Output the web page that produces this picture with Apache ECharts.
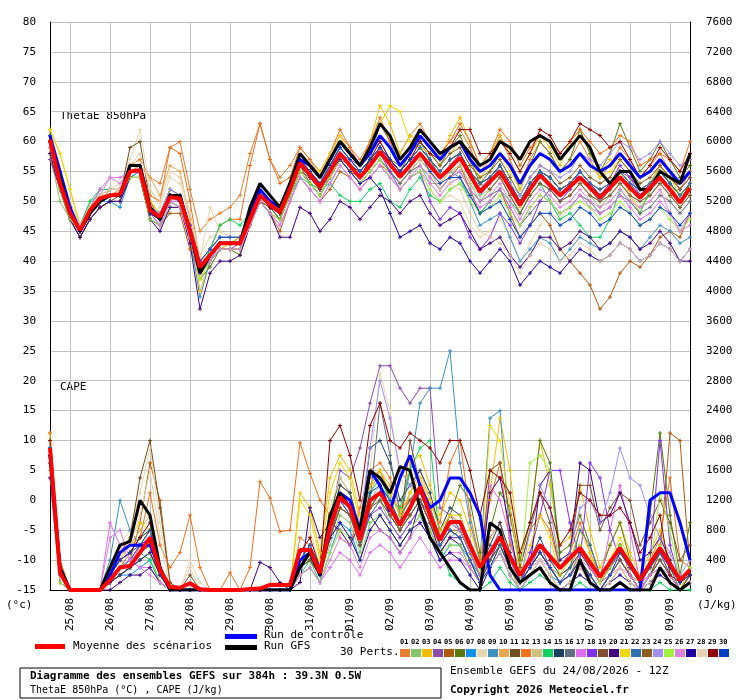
<!DOCTYPE html>
<html><head><meta charset="utf-8">
<script src="https://cdn.jsdelivr.net/npm/echarts@6/dist/echarts.min.js"></script>
<style>html,body{margin:0;padding:0;background:#fff}#c{width:740px;height:700px}</style>
</head><body><div id="c"></div>
<script>
// 65 echeances de 6h, 24/08 12Z -> +384h
var dateLabels = ['25/08','26/08','27/08','28/08','29/08','30/08','31/08','01/09','02/09','03/09','04/09','05/09','06/09','07/09','08/09','09/09'];
var colors = ['#e87f33','#88c46c','#f0c000','#8b4da8','#b05a10','#5a7a10','#1090f0','#e8d8b0','#4090c0','#e8a850',
  '#705020','#f07020','#d0c080','#10d060','#204060','#607080','#e070f0','#8030f0','#805030','#400080',
  '#f0d800','#3070b0','#8a6020','#a090f0','#a0f040','#e080e0','#2000a0','#e8d0b0','#900000','#0040c0'];

// ThetaE 850hPa (degC)
var thetaMean = [60.3,53,48,45.2,48.5,50.5,51,51.2,55,55.2,48.5,47.4,50.7, 50.5,45,39,41,43,43,43,47,51,49.5,48.2,52,56.4,
  54.5,52.4,55,58,56,54,56,58.3,56.2,54.1,56,58,56, 54,55.6,57.3,54.5,51.6,53.3,55,52.2,49.4,52,54.4,52.7,51,
  52.5,54,52.3,50.6,52.3,54,52.3,50.6,52.3,54,52,49.8,52.2];
var thetaCtrl = [61,55,49,45,48,50,51,51,56,56,49,47,51, 51,45,38,41,43,43,43,48,52,50,49,53,57, 56,54,57,60,58,56,58,61,59,56,58,61,59, 57,59,60,57,55,56,58,56,53,56,58,57,55, 56,58,56,55,56,58,56,54,55,57,55,53,55];
var thetaGfs = [60,54,48,45,48,50,51,51,56,56,49,47,51, 51,45,38,41,43,43,43,49,53,51,49,53,58, 56,54,57,60,58,56,59,63,61,57,59,62,60, 58,59,60,58,56,57,60,59,57,60,61,60,57, 59,61,59,55,53,55,55,52,52,55,54,53,58];
var thetaMembers = [
 [61,55,49,45,48,50,52,52,56,57,54,53,59, 60,52,45,47,48,49,51,58,63,57,54,56,59, 57,54,58,61,59,57,60,64,60,58,61,63,60, 58,60,62,59,55,57,61,57,53,57,60,58,55, 57,60,57,54,56,59,57,54,56,58,55,52,55],
 [58,50,47,46,50,51,51,51,54,54,47,46,49, 49,44,38,42,44,44,44,46,50,48,47,51,55, 53,51,54,57,55,53,55,57,55,53,55,56,53, 53,55,56,53,50,52,54,51,48,51,53,52,50, 51,53,51,49,51,53,51,49,51,53,51,49,51],
 [62,58,52,46,49,51,52,52,56,56,50,48,52, 51,46,35,40,42,43,43,48,52,50,49,53,57, 56,54,57,60,58,56,60,66,63,58,61,60,58, 57,61,64,60,56,58,61,58,55,58,61,59,56, 60,62,58,55,57,55,51,48,52,56,53,50,53],
 [57,52,48,45,49,52,52,52,55,56,48,47,51, 51,45,38,40,42,42,43,47,51,50,48,53,56, 55,53,55,58,57,56,58,60,57,55,57,59,57, 54,56,58,55,52,54,56,53,50,53,55,54,52, 53,55,53,51,53,55,54,52,53,55,53,51,53],
 [60,52,47,44,47,49,50,50,54,54,47,46,48, 48,42,38,40,42,42,42,46,50,48,45,50,54, 52,50,52,55,54,52,54,56,55,53,55,57,55, 52,54,56,52,48,50,52,48,44,46,48,46,42, 40,38,36,32,34,38,40,39,41,44,45,44,48],
 [59,53,48,45,48,50,51,51,54,55,49,47,51, 50,44,37,39,42,42,41,46,50,49,47,51,55, 53,52,55,58,56,54,57,59,57,55,58,60,58, 56,59,61,57,53,55,58,56,52,56,60,58,55, 57,62,58,55,58,63,59,55,57,60,57,54,56],
 [60,54,49,46,49,50,50,49,54,55,47,46,50, 49,44,38,41,43,43,44,48,52,50,49,53,57, 55,53,56,58,56,55,57,58,56,54,56,58,56, 54,56,57,54,51,53,56,53,50,53,55,53,51, 52,54,52,50,52,55,53,51,53,55,53,51,53],
 [61,55,50,46,49,51,52,53,57,62,52,49,54, 53,47,40,49,45,44,44,49,52,50,48,52,56, 54,52,55,57,55,53,55,57,54,52,54,55,52, 50,51,50,46,44,45,47,44,40,43,46,48,47, 49,51,50,48,50,52,51,49,50,52,50,48,50],
 [60,53,48,45,48,50,51,51,55,55,48,46,50, 50,44,34,40,43,43,43,47,51,49,48,52,56, 54,52,54,57,56,55,57,63,60,56,58,60,57, 54,55,54,50,46,47,48,44,40,42,44,43,40, 42,44,43,42,43,45,44,42,44,46,45,43,44],
 [61,54,48,45,48,50,51,51,55,56,54,51,56, 55,47,40,41,43,43,44,48,51,49,48,52,56, 54,52,55,58,56,54,56,58,56,54,56,58,56, 54,56,57,54,52,53,55,52,49,52,54,53,51, 52,54,52,51,52,54,52,51,52,54,52,50,52],
 [58,52,47,44,47,49,50,51,59,60,50,47,51, 50,44,38,40,42,42,42,47,50,49,47,51,55, 54,52,55,58,56,55,57,59,57,55,57,59,57, 55,57,58,55,53,54,56,53,50,53,55,54,52, 53,55,53,51,52,54,52,51,52,54,52,50,53],
 [60,53,48,45,48,50,51,52,56,56,51,50,59, 58,50,40,42,46,47,47,56,63,57,53,54,59, 57,55,58,62,59,56,60,63,60,57,59,62,60, 58,60,63,60,56,58,62,60,56,59,61,60,58, 60,62,60,58,59,61,60,56,57,58,57,55,60],
 [60,54,49,46,49,51,51,52,55,55,49,47,51, 50,45,39,41,43,43,43,48,52,50,49,52,55, 53,51,54,57,55,53,55,57,55,53,55,57,55, 53,55,56,53,51,52,54,51,48,51,53,52,50, 51,53,51,50,51,53,51,50,51,53,51,49,51],
 [60,53,48,46,50,52,52,52,55,55,48,47,50, 50,44,38,42,46,47,46,48,51,49,48,51,54, 53,52,53,51,50,50,52,53,50,49,52,54,51, 50,52,53,51,48,50,52,50,48,51,53,50,47, 48,46,44,44,47,52,50,48,52,55,53,51,52],
 [61,55,49,45,48,50,51,51,55,55,48,47,51, 50,45,39,41,43,43,43,47,51,49,48,52,56, 55,53,56,59,57,55,57,59,57,55,57,59,57, 55,57,58,55,53,54,56,53,50,53,55,54,52, 53,55,53,52,53,55,53,52,53,55,53,51,53],
 [59,52,47,44,47,49,50,50,54,54,47,46,50, 49,44,38,40,42,42,42,46,50,48,47,51,55, 53,51,54,57,55,53,55,57,55,53,55,56,54, 52,54,55,52,50,51,52,49,46,48,50,50,48, 49,51,50,48,49,51,50,48,49,51,50,48,50],
 [59,53,48,45,49,52,54,54,55,55,48,46,50, 50,44,38,40,42,42,42,46,50,48,46,50,54, 52,50,53,56,54,52,54,56,54,52,54,55,53, 51,53,54,51,49,50,52,49,46,49,51,50,48, 49,51,49,48,49,51,49,47,48,50,48,45,48],
 [60,53,48,45,48,50,51,51,55,55,48,47,51, 50,45,39,41,43,43,43,47,51,49,48,52,56, 54,52,55,58,56,54,56,58,55,52,54,55,50, 47,49,48,44,42,44,48,46,43,46,50,52,50, 52,55,53,51,53,56,54,51,53,56,54,52,54],
 [61,54,48,45,48,50,51,51,55,55,48,47,51, 50,45,39,41,43,43,43,47,51,49,48,52,56, 53,51,54,57,55,54,57,59,57,55,57,59,57, 55,57,58,55,53,52,54,51,48,51,53,52,50, 51,53,51,50,51,53,51,50,51,53,51,49,51],
 [58,52,47,44,47,49,50,50,54,54,47,45,49, 49,43,32,38,40,40,41,46,50,48,44,44,49, 48,45,47,50,49,47,49,51,50,48,50,51,48, 46,47,48,45,42,43,44,41,39,41,44,44,42, 43,45,44,42,43,45,44,42,43,45,43,40,40],
 [62,58,52,46,49,51,52,52,56,56,50,48,52, 51,46,37,41,43,43,44,48,52,50,49,53,57, 56,55,58,61,58,56,59,63,66,65,60,59,58, 56,58,60,57,54,56,58,55,52,56,58,57,55, 56,58,56,54,55,57,55,52,53,56,54,51,53],
 [60,54,49,45,48,50,51,51,55,55,49,48,52, 51,45,39,41,43,43,43,47,51,49,48,52,57, 55,53,56,59,57,55,57,59,57,55,57,59,57, 55,57,58,55,53,54,56,53,50,53,55,54,52, 53,55,53,52,53,55,53,52,53,55,53,51,53],
 [59,53,48,45,48,50,51,51,55,55,48,47,51, 50,45,39,41,43,43,43,47,51,49,48,52,56, 54,52,55,58,56,54,57,59,57,56,58,60,58, 56,58,59,56,54,55,57,54,51,54,56,55,53, 54,56,54,53,54,57,55,53,54,56,54,52,54],
 [60,54,49,46,49,51,52,52,56,56,49,48,52, 51,46,40,42,44,44,44,48,52,50,49,53,57, 55,53,56,59,57,55,57,59,57,55,57,58,56, 54,56,57,54,52,53,55,53,51,54,56,55,54, 55,58,57,56,58,60,59,57,58,60,58,56,57],
 [59,52,47,45,49,51,51,51,54,54,47,46,50, 49,44,37,40,42,42,42,46,50,48,47,51,55, 53,51,54,57,55,53,55,57,54,52,54,55,52, 50,52,53,50,48,49,51,48,46,49,51,50,48, 49,50,49,47,48,50,48,46,47,49,47,45,47],
 [59,53,48,45,48,51,54,53,55,55,48,46,50, 49,44,38,40,42,42,42,46,50,48,46,50,54, 52,50,53,56,54,52,54,56,54,52,54,56,54, 52,54,55,52,50,51,53,50,47,50,52,51,49, 50,52,50,49,50,52,50,49,50,52,48,45,46],
 [60,54,48,45,48,50,51,51,55,55,48,47,51, 50,45,39,41,43,43,43,47,51,49,48,52,56, 54,52,55,57,55,53,54,52,48,44,45,46,43, 42,44,43,40,38,40,42,40,36,38,40,39,38, 40,42,41,40,41,43,42,40,41,43,42,40,42],
 [61,55,50,46,49,51,52,52,56,58,52,50,55, 54,48,41,44,45,44,44,48,52,50,48,52,56, 54,52,55,58,56,54,56,58,56,54,56,58,55, 52,53,52,48,45,44,43,41,38,41,43,42,40, 41,43,42,40,41,43,42,40,41,43,42,40,42],
 [60,54,49,45,48,50,51,51,55,55,48,47,51, 50,45,39,41,43,43,43,47,51,49,48,52,56, 54,52,55,58,56,54,57,60,57,55,57,60,58, 57,59,62,62,58,58,60,58,55,58,62,61,58, 60,63,62,61,59,60,57,54,56,59,57,55,58],
 [61,55,49,45,48,50,51,51,55,55,48,47,51, 51,46,40,42,44,44,44,48,52,50,49,53,57, 55,53,56,59,57,55,57,59,57,55,57,58,55, 53,54,54,51,48,49,50,47,44,46,48,48,46, 47,49,48,46,47,49,48,46,47,49,48,46,48]
];

// CAPE (J/kg), axe de droite
var capeMean = [1900,230,0,0,0,0,130,300,320,500,700,270,40, 30,90,10,0,0,0,0,15,20,70,67,67,535,
  535,227,843,1244,1110,669,1200,1298,1100,870,1100,1378,1000, 669,910,910,600,308,500,709,450,200,400,602,450,294,
  430,562,370,174,370,562,350,134,350,562,350,134,268];
var capeCtrl = [1800,300,0,0,0,0,200,500,600,600,600,300,0, 0,0,0,0,0,0,0,0,0,0,0,0,400, 500,200,900,1300,1200,800,1600,1400,1050,1500,1800,1400,1100, 1200,1500,1500,1300,1000,200,0,0,0,0,0,0,0, 0,0,0,0,0,0,0,0,1200,1300,1300,900,400];
var capeGfs = [1800,300,0,0,0,0,300,600,650,1200,1000,300,0, 0,0,0,0,0,0,0,0,0,0,0,0,300, 500,200,1000,1300,1100,800,1600,1500,1300,1650,1600,1100,700, 500,300,100,0,0,900,800,300,100,200,300,100,0, 0,400,100,0,0,100,0,0,0,300,100,0,100];
var capeMembers = [
 [2000,300,0,0,0,0,200,400,300,600,800,200,0, 0,100,0,0,0,0,0,0,0,0,0,0,700, 600,300,900,1400,1300,800,1500,1600,1200,900,1300,1500,1100, 700,1000,900,500,200,700,900,400,100,300,500,300,200, 300,600,300,100,300,600,200,100,300,500,200,0,200],
 [1800,200,0,0,0,0,100,200,300,400,500,200,0, 0,0,0,0,0,0,0,0,0,0,0,0,300, 400,200,600,1000,900,500,1100,1200,900,700,900,1100,800, 500,700,800,500,200,400,600,300,100,300,500,300,200, 300,400,200,0,200,400,200,0,200,400,200,0,100],
 [2100,400,0,0,0,0,200,500,600,700,800,300,0, 0,0,0,0,0,0,0,0,0,0,0,0,1300, 1100,500,1500,1800,1600,1000,1400,1500,1300,1000,1700,1800,1400, 1000,1300,1200,800,400,1300,2300,1600,400,900,2000,1400,600, 700,1400,800,300,600,900,500,200,500,800,400,100,300],
 [1700,300,0,0,0,0,100,300,400,500,600,200,0, 0,0,0,0,0,0,0,0,0,0,0,0,400, 500,200,900,1600,1500,1900,2500,3000,3000,2700,2500,2700,2700, 1100,1000,800,500,200,500,800,400,100,300,600,300,100, 200,500,300,100,200,400,200,0,200,500,200,0,200],
 [1900,200,0,0,0,0,100,300,400,900,1700,1200,100, 0,0,0,0,0,0,0,0,0,0,0,0,300, 500,200,700,1100,1000,600,1100,1300,1000,800,1000,1200,900, 600,800,800,500,200,400,700,300,100,300,500,300,100, 200,400,200,0,200,400,200,0,200,500,2100,2000,300],
 [1800,200,0,0,0,0,100,200,300,400,500,200,0, 0,0,0,0,0,0,0,0,0,0,0,0,400, 600,300,1000,1500,1300,800,1400,1600,1300,1000,1200,1400,1000, 700,1000,1400,1200,500,800,1300,1100,400,900,2000,1700,500, 600,1000,600,200,600,900,400,100,1000,2100,1000,200,900],
 [1600,200,0,0,0,0,100,200,200,300,400,100,0, 0,0,0,0,0,0,0,0,0,0,0,0,200, 300,100,500,900,800,400,900,1000,800,600,800,1000,700, 400,600,600,400,100,300,500,200,0,200,400,200,100, 200,300,200,0,200,400,200,0,200,400,200,0,100],
 [2000,300,0,0,0,0,200,600,800,1300,1900,900,100, 0,400,100,0,0,0,0,0,0,0,0,0,500, 800,300,1100,1500,1300,800,1600,2900,2400,1500,1300,1500,1100, 600,800,700,400,100,300,600,200,0,200,400,200,0, 100,300,200,0,100,300,100,0,100,300,100,0,100],
 [1700,200,0,0,0,0,400,1200,800,600,700,200,0, 0,0,0,0,0,0,0,0,0,0,0,0,300, 500,200,800,1200,1100,700,1200,1400,1200,900,1600,2500,2700, 2700,3200,1700,900,400,2300,2400,700,100,300,500,300,100, 200,400,200,0,200,400,200,0,200,400,200,0,100],
 [1900,300,0,0,0,0,200,400,600,800,1000,300,0, 0,0,0,0,0,0,0,0,0,0,0,0,400, 600,300,900,1300,1200,700,1300,1600,1400,1000,1300,1600,1200, 800,1000,900,500,200,500,800,400,100,300,500,300,100, 200,500,300,100,300,500,300,100,300,500,300,100,300],
 [2000,300,0,0,0,0,200,500,700,1500,2000,1100,100, 0,200,0,0,0,0,0,0,0,0,0,0,400, 500,200,800,1200,1000,600,1100,1300,1100,800,1000,1200,900, 600,800,700,400,100,400,600,300,0,200,400,200,0, 100,300,100,0,100,300,100,0,100,300,100,0,100],
 [2100,400,0,0,0,0,100,300,500,700,1300,600,300, 500,1000,300,0,0,230,0,300,1450,1230,780,800,1970, 1560,1200,1000,700,600,1100,1600,1700,1500,1100,1200,1300,1200, 900,1700,2000,1000,400,1200,1700,600,300,800,1000,800,300, 500,900,500,200,400,600,300,100,400,700,1500,400,300],
 [1800,200,0,0,0,0,100,300,400,600,800,200,0, 0,0,0,0,0,0,0,0,0,0,0,0,300, 400,200,700,1100,1000,600,1100,1300,1100,800,1000,1200,900, 600,700,700,400,100,300,600,300,0,200,400,200,0, 100,300,100,0,100,300,100,0,100,300,100,0,100],
 [1700,200,0,0,0,0,100,200,300,500,400,100,0, 0,0,0,0,0,0,0,0,0,0,0,0,200, 400,100,900,1300,1200,800,1300,1500,1200,1100,1600,1900,2000, 600,200,100,0,0,100,300,100,0,100,200,100,0, 0,100,0,0,0,100,0,0,0,100,0,0,0],
 [1900,300,0,0,0,0,200,400,500,700,800,300,0, 0,0,0,0,0,0,0,0,0,0,0,0,400, 600,300,900,1400,1300,800,1900,2000,1700,1200,1400,1600,1300, 800,1100,1000,600,300,600,900,500,100,400,700,400,200, 300,500,300,100,300,600,300,100,300,600,300,100,300],
 [1800,200,0,0,0,0,100,300,400,600,700,200,0, 0,0,0,0,0,0,0,0,0,0,0,0,300, 500,200,800,1200,1100,700,1200,2500,1800,1000,1200,1400,1100, 700,900,800,500,200,500,700,400,100,300,500,300,100, 200,400,200,0,200,400,200,0,200,400,200,0,200],
 [1600,200,0,0,0,0,900,600,400,300,300,100,0, 0,0,0,0,0,0,0,0,0,0,0,0,200, 300,100,300,500,400,200,500,600,500,300,500,700,500, 300,400,400,300,100,1400,1200,700,100,300,500,300,100, 200,400,300,100,800,1400,800,100,200,300,100,0,100],
 [1700,200,0,0,0,0,100,300,400,600,700,200,0, 0,0,0,0,0,0,0,0,0,0,0,0,300, 500,200,800,1200,1000,600,1000,1100,900,700,900,1100,800, 500,700,700,400,100,400,700,300,100,500,1000,1600,1600, 900,400,1700,1500,800,400,200,0,400,2000,600,100,300],
 [1800,200,0,0,0,0,100,200,300,500,600,200,0, 0,0,0,0,0,0,0,0,0,0,0,0,300, 400,200,700,1100,1000,600,1100,1300,1000,800,2000,1400,1100, 700,900,800,500,200,1600,1700,1000,300,800,1300,900,300, 500,1400,1400,800,1100,1300,1200,600,900,1200,900,400,600],
 [1500,100,0,0,0,0,0,100,200,200,300,100,0, 0,0,0,0,0,0,0,0,370,300,100,0,100, 1100,700,900,800,600,900,1000,800,700,500,700,1200,900, 500,700,600,300,100,1300,1500,800,100,300,1400,1600,400, 500,1700,1600,900,1000,1300,900,400,500,700,400,100,300],
 [2000,300,0,0,0,0,300,400,700,900,800,300,0, 0,0,0,0,0,0,0,0,0,0,0,0,1200, 1000,400,1300,1700,1500,900,1400,1600,1300,1000,1300,1500,1200, 800,1000,1000,600,200,2200,2000,1100,200,600,1000,700,200, 400,800,500,100,400,700,400,100,400,600,300,0,300],
 [1800,200,0,0,0,0,200,300,400,500,600,200,0, 0,0,0,0,0,0,0,0,0,0,0,0,300, 400,200,700,1200,1000,600,1000,1200,1000,800,1000,1200,1000, 600,800,700,400,200,400,600,300,100,300,500,300,100, 300,800,600,200,300,500,300,100,300,500,300,0,200],
 [1700,200,0,0,0,0,100,200,300,500,600,200,0, 0,0,0,0,0,0,0,0,0,0,0,0,300, 400,200,700,1100,1000,600,1100,1200,1000,800,1000,1200,900, 600,800,700,400,100,400,600,300,100,300,500,300,100, 200,400,200,0,200,400,200,0,200,400,200,0,200],
 [1900,300,0,0,0,0,200,300,400,500,700,200,0, 0,0,0,0,0,0,0,0,0,0,0,0,300, 500,200,800,1300,1200,900,1900,2800,2300,1600,1400,1300,1100, 700,900,800,500,200,500,800,400,100,800,1400,1100,300, 500,1100,1200,900,1300,1900,1500,1400,1000,700,500,200,400],
 [1600,100,0,0,0,0,100,200,300,400,500,100,0, 0,0,0,0,0,0,0,0,0,0,0,0,200, 300,100,500,800,700,400,900,1000,800,600,800,1000,800, 500,600,600,300,100,300,600,300,100,1700,1800,1600,300, 400,600,400,100,300,600,300,100,300,1300,800,100,300],
 [1700,200,0,0,0,0,700,800,400,300,200,100,0, 0,0,0,0,0,0,0,0,0,0,0,0,200, 300,100,400,700,600,300,700,800,700,500,700,900,700, 400,500,500,300,100,300,500,300,100,300,400,300,100, 200,300,200,0,200,300,200,0,200,300,200,0,100],
 [1800,200,0,0,0,0,100,200,300,400,500,200,0, 0,0,0,0,0,0,0,0,0,0,0,0,300, 500,200,700,900,700,400,800,1000,800,600,800,900,700, 400,500,400,200,0,300,500,200,0,200,300,100,0, 100,200,100,0,100,200,100,0,100,200,100,0,100],
 [1900,200,0,0,0,0,200,400,600,1000,1600,700,0, 0,300,0,0,0,0,0,0,0,0,0,0,400, 600,300,900,1300,1100,700,1200,1400,1200,900,1100,1300,1000, 600,800,700,400,100,300,500,200,0,200,400,200,0, 100,300,100,0,100,300,100,0,100,300,100,0,100],
 [2000,300,0,0,0,0,200,400,500,700,900,300,0, 0,0,0,0,0,0,0,0,0,0,0,0,500, 700,300,2000,2200,1800,1200,2200,2500,2000,1900,2100,2000,1900, 1700,2000,2000,1600,1000,1600,1500,1300,500,900,1300,1100,600, 800,1300,1200,1000,1000,1100,900,500,700,1000,200,100,200],
 [1900,300,0,0,0,0,200,400,500,600,800,300,0, 0,0,0,0,0,0,0,0,0,0,0,0,400, 600,300,900,1300,1100,700,1300,1400,1200,900,1100,1300,1000, 600,800,700,400,100,300,600,300,100,300,500,300,100, 200,400,200,0,200,500,300,100,300,500,300,100,200]
];

var cats = thetaMean.map(function (v, i) { return i; });
function isDay(i) { return (i - 2) % 4 === 0 && i >= 2; }
var mono = 'DejaVu Sans Mono';

var plus = 'path://M0,5H10M5,0V10';
function line(data, color, width, yIdx, z) {
  return { type: 'line', data: data, yAxisIndex: yIdx, symbol: plus, symbolSize: width > 2 ? 0 : 4,
    showSymbol: width <= 2, silent: true, animation: false, z: z,
    lineStyle: { color: color, width: width }, itemStyle: { color: 'none', borderColor: color, borderWidth: 1 } };
}
var series = [];
thetaMembers.forEach(function (d, k) { series.push(line(d, colors[k], 1, 0, 2)); });
capeMembers.forEach(function (d, k) { series.push(line(d, colors[k], 1, 1, 2)); });
series.push(line(thetaCtrl, '#0000ff', 3, 0, 3), line(capeCtrl, '#0000ff', 3, 1, 3));
series.push(line(thetaGfs, '#000000', 3, 0, 4), line(capeGfs, '#000000', 3, 1, 4));
series.push(line(thetaMean, '#ff0000', 4, 0, 5), line(capeMean, '#ff0000', 4, 1, 5));

var g = [
  { type: 'text', left: 60, top: 111, style: { text: 'ThetaE 850hPa', font: '11px ' + mono, fill: '#000' } },
  { type: 'text', left: 60, top: 382, style: { text: 'CAPE', font: '11px ' + mono, fill: '#000' } },
  { type: 'text', left: 6, top: 600, style: { text: '(°c)', font: '11px ' + mono, fill: '#000' } },
  { type: 'text', left: 697, top: 600, style: { text: '(J/kg)', font: '11px ' + mono, fill: '#000' } },
  { type: 'rect', shape: { x: 35, y: 644, width: 30, height: 5 }, style: { fill: '#ff0000' } },
  { type: 'text', left: 73, top: 641, style: { text: 'Moyenne des scénarios', font: '11px ' + mono, fill: '#000' } },
  { type: 'rect', shape: { x: 225, y: 634, width: 32, height: 5 }, style: { fill: '#0000ff' } },
  { type: 'text', left: 264, top: 630, style: { text: 'Run de contrôle', font: '11px ' + mono, fill: '#000' } },
  { type: 'rect', shape: { x: 225, y: 645, width: 32, height: 5 }, style: { fill: '#000' } },
  { type: 'text', left: 264, top: 641, style: { text: 'Run GFS', font: '11px ' + mono, fill: '#000' } },
  { type: 'text', left: 340, top: 647, style: { text: '30 Perts.', font: '11px ' + mono, fill: '#000' } },
  { type: 'rect', shape: { x: 20, y: 668, width: 421, height: 30 }, style: { fill: 'none', stroke: '#000', lineWidth: 1 } },
  { type: 'text', left: 30, top: 671, style: { text: 'Diagramme des ensembles GEFS sur 384h : 39.3N 0.5W', font: 'bold 11px ' + mono, fill: '#000' } },
  { type: 'text', left: 30, top: 685, style: { text: 'ThetaE 850hPa (°C) , CAPE (J/kg)', font: '10px ' + mono, fill: '#000' } },
  { type: 'text', left: 450, top: 666, style: { text: 'Ensemble GEFS du 24/08/2026 - 12Z', font: '11px ' + mono, fill: '#000' } },
  { type: 'text', left: 450, top: 685, style: { text: 'Copyright 2026 Meteociel.fr', font: 'bold 11px ' + mono, fill: '#000' } }
];
colors.forEach(function (c, k) {
  var x = 400 + k * 11;
  g.push({ type: 'rect', shape: { x: x, y: 649, width: 10, height: 8 }, style: { fill: c } });
  g.push({ type: 'text', left: x, top: 639, style: { text: (k < 9 ? '0' : '') + (k + 1), font: 'bold 7px ' + mono, fill: '#000' } });
});

echarts.init(document.getElementById('c')).setOption({
  backgroundColor: '#fff',
  animation: false,
  grid: { left: 50, right: 50, top: 22, bottom: 110 },
  xAxis: {
    type: 'category', data: cats, boundaryGap: false,
    axisLine: { onZero: false, lineStyle: { color: '#000' } }, axisTick: { show: false },
    axisLabel: { rotate: 90, interval: function (i) { return isDay(i); },
      formatter: function (v, i) { return isDay(i) ? dateLabels[(i - 2) / 4] : ''; },
      fontFamily: mono, fontSize: 11, color: '#000', margin: 8 },
    splitLine: { show: true, interval: function (i) { return isDay(i); }, lineStyle: { color: '#c0c0c0' } }
  },
  yAxis: [
    { type: 'value', min: -15, max: 80, interval: 5, position: 'left',
      axisLine: { show: true, lineStyle: { color: '#000' } }, axisTick: { show: false },
      axisLabel: { fontFamily: mono, fontSize: 11, color: '#000', margin: 14 },
      splitLine: { lineStyle: { color: '#c0c0c0' } } },
    { type: 'value', min: 0, max: 7600, interval: 400, position: 'right',
      axisLine: { show: true, lineStyle: { color: '#000' } }, axisTick: { show: false },
      axisLabel: { fontFamily: mono, fontSize: 11, color: '#000', margin: 16, formatter: function (v) { return String(v); } },
      splitLine: { show: false } }
  ],
  series: series,
  graphic: g
});
</script></body></html>
